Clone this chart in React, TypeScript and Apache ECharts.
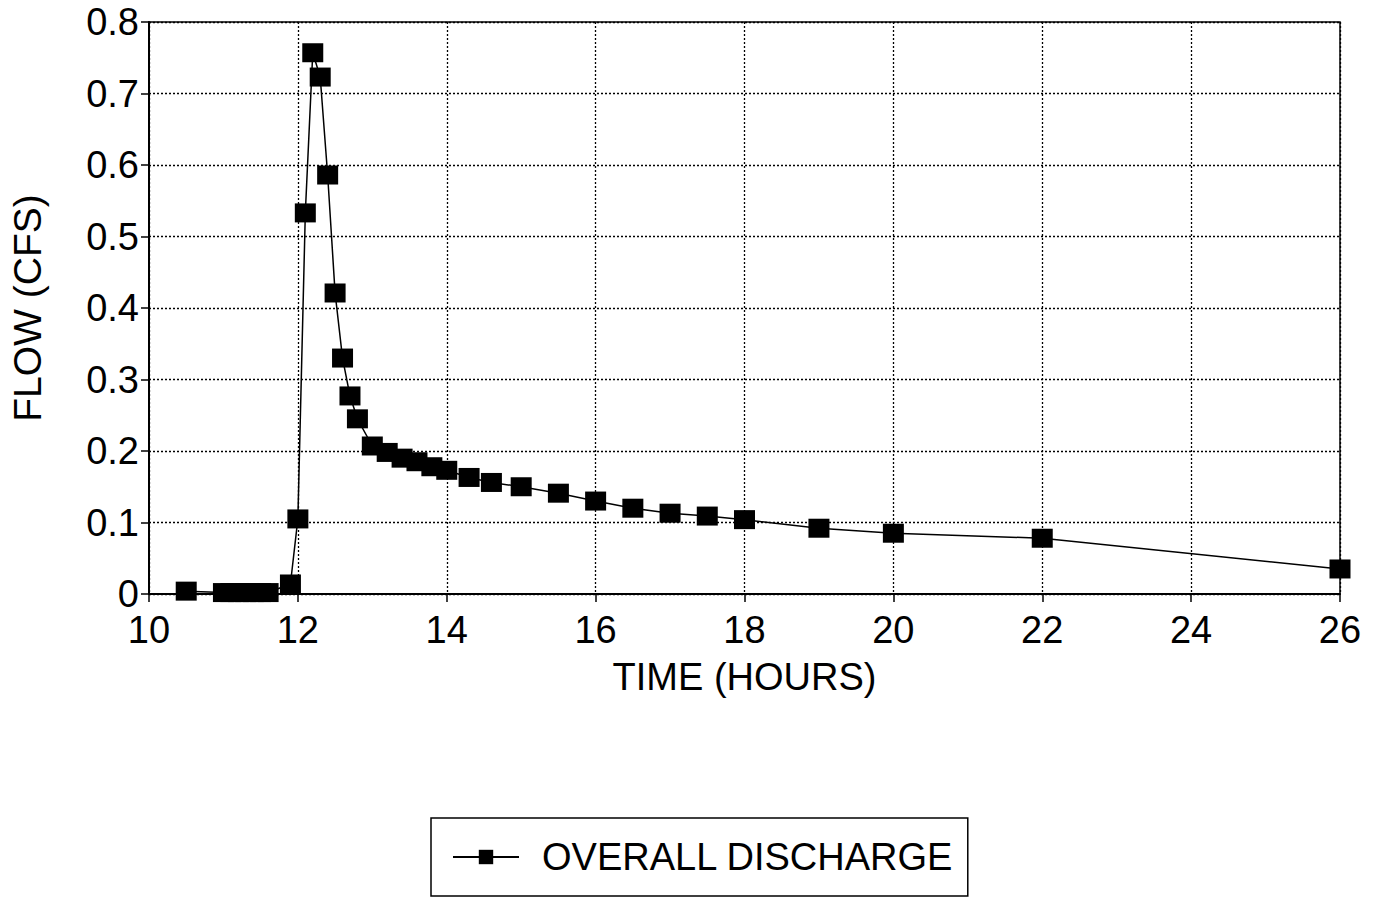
import React, { useEffect, useRef } from "react";
import * as echarts from "echarts";

const timeHours = [10.5, 11.0, 11.1, 11.2, 11.3, 11.4, 11.5, 11.6, 11.9, 12.0, 12.1, 12.2, 12.3, 12.4, 12.5, 12.6, 12.7, 12.8, 13.0, 13.2, 13.4, 13.6, 13.8, 14.0, 14.3, 14.6, 15.0, 15.5, 16.0, 16.5, 17.0, 17.5, 18.0, 19.0, 20.0, 22.0, 26.0];
const flowCfs = [0.004, 0.002, 0.002, 0.002, 0.002, 0.002, 0.002, 0.002, 0.014, 0.105, 0.533, 0.757, 0.723, 0.586, 0.421, 0.33, 0.277, 0.245, 0.207, 0.198, 0.19, 0.185, 0.178, 0.173, 0.163, 0.156, 0.15, 0.141, 0.13, 0.12, 0.113, 0.109, 0.104, 0.092, 0.085, 0.078, 0.035];
const seriesName = "OVERALL DISCHARGE";
const xTitle = "TIME (HOURS)";
const yTitle = "FLOW (CFS)";

const FONT = "Liberation Sans, Arial, sans-serif";

export default function App() {
  const ref = useRef<HTMLDivElement>(null);
  useEffect(() => {
    if (!ref.current) return;
    const chart = echarts.init(ref.current, undefined, { renderer: "svg" });
    const data = timeHours.map((t, i) => [t, flowCfs[i]]);
    chart.setOption({
      animation: false,
      backgroundColor: "#fff",
      textStyle: { fontFamily: FONT, color: "#000" },
      grid: {
        left: 148,
        right: 37,
        top: 22,
        bottom: 304,
        show: true,
        borderColor: "#000",
        borderWidth: 1.5,
      },
      xAxis: {
        type: "value",
        min: 10,
        max: 26,
        interval: 2,
        name: xTitle,
        nameLocation: "middle",
        nameGap: 64,
        nameTextStyle: { fontSize: 38, color: "#000", fontFamily: FONT },
        axisLine: { show: true, onZero: false, lineStyle: { color: "#000", width: 2 } },
        axisTick: { show: true, inside: false, length: 8, lineStyle: { color: "#000", width: 1.5 } },
        axisLabel: { fontSize: 38, lineHeight: 26, color: "#000", margin: 23, fontFamily: FONT },
        splitLine: { show: true, lineStyle: { color: "#000", width: 1.3, type: [2, 2] } },
      },
      yAxis: {
        type: "value",
        min: 0,
        max: 0.8,
        interval: 0.1,
        name: yTitle,
        nameLocation: "middle",
        nameGap: 102,
        nameRotate: 90,
        nameTextStyle: { fontSize: 39, color: "#000", fontFamily: FONT },
        axisLine: { show: true, lineStyle: { color: "#000", width: 2 } },
        axisTick: { show: true, inside: false, length: 8, lineStyle: { color: "#000", width: 1.5 } },
        axisLabel: { fontSize: 38, lineHeight: 24, color: "#000", margin: 10, fontFamily: FONT },
        splitLine: { show: true, lineStyle: { color: "#000", width: 1.3, type: [2, 2] } },
      },
      legend: {
        show: true,
        left: 431,
        top: 818,
        orient: "horizontal",
        padding: [20, 14, 20, 21],
        borderColor: "#000",
        borderWidth: 1.5,
        itemWidth: 66,
        itemHeight: 18,
        textStyle: { fontSize: 38, color: "#000", fontFamily: FONT, padding: [0, 0, 0, 18] },
        data: [seriesName],
      },
      series: [
        {
          name: seriesName,
          type: "line",
          data,
          symbol: "rect",
          symbolSize: [21, 19],
          itemStyle: { color: "#000" },
          lineStyle: { color: "#000", width: 1.5 },
        },
      ],
    });
    return () => chart.dispose();
  }, []);
  return (
    <div
      ref={ref}
      style={{ position: "fixed", left: 0, top: 0, width: 1377, height: 898, background: "#fff" }}
    />
  );
}
